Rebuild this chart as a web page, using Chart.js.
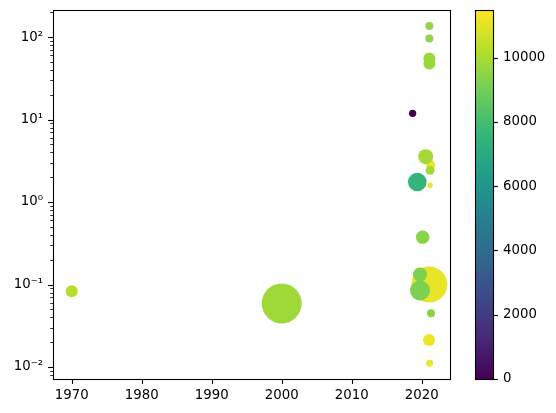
<!DOCTYPE html>
<html>
<head>
<meta charset="utf-8">
<script src="https://cdn.jsdelivr.net/npm/chart.js@4"></script>
<style>
  html, body { margin: 0; padding: 0; background: #fff; }
  #wrap { position: relative; width: 556px; height: 413px; }
  #wrap canvas { position: absolute; left: 0; top: 0; }
</style>
</head>
<body>
<div id="wrap">
  <canvas id="grafico" width="556" height="413"></canvas>
  <canvas id="barra" width="556" height="413"></canvas>
</div>
<script>
// --- datos ---
const years = [1970, 2000, 2021.09, 2021.09, 2021.1, 2021.1, 2018.7, 2021.29, 2020.57, 2021.19,
               2019.37, 2021.19, 2020.14, 2021.09, 2019.76, 2019.76, 2021.33, 2021.04, 2021.14];
const values = [0.083, 0.059, 136, 96, 55, 47.9, 11.9, 2.82, 3.55, 2.43,
                1.75, 1.6, 0.375, 0.1, 0.132, 0.0845, 0.0448, 0.0213, 0.0111];
// marker area (pt^2, como "s" de scatter)
const sizes = [75, 829, 33, 33, 75, 75, 28, 42, 117, 42,
               179, 15, 93, 672, 102, 207, 33, 75, 25];
const colorValues = [10200, 9800, 9500, 9500, 9700, 9700, 0, 11200, 9900, 9900,
                     7500, 11200, 9400, 11100, 9200, 9200, 9400, 11200, 11200];

const xTicks = [1970, 1980, 1990, 2000, 2010, 2020];
const yTickValues = [0.01, 0.1, 1, 10, 100];
const yTickLabels = ["10⁻²", "10⁻¹", "10⁰", "10¹", "10²"];
const colorTicks = [0, 2000, 4000, 6000, 8000, 10000];
const colorMin = 0;
const colorMax = 11480;

// --- viridis ---
const viridisStops = ["#440154", "#482878", "#3e4989", "#31688e", "#26828e",
                      "#1f9e89", "#35b779", "#6ece58", "#b5de2b", "#fde725"];

function hexRgb(h) {
  return [1, 3, 5].map(i => parseInt(h.slice(i, i + 2), 16));
}

function viridis(t) {
  t = Math.min(1, Math.max(0, t));
  const pos = t * (viridisStops.length - 1);
  const i = Math.min(Math.floor(pos), viridisStops.length - 2);
  const f = pos - i;
  const a = hexRgb(viridisStops[i]), b = hexRgb(viridisStops[i + 1]);
  const c = a.map((v, k) => Math.round(v + (b[k] - v) * f));
  return `rgb(${c[0]},${c[1]},${c[2]})`;
}

// area en pt^2 -> radio en px (dpi 100)
function sizeToRadius(s) {
  return Math.sqrt(s) / 2 * 100 / 72;
}

// sin padding extra de las etiquetas
function sinPadding(s) {
  s.paddingTop = 0;
  s.paddingBottom = 0;
  s.paddingLeft = 0;
  s.paddingRight = 0;
}

Chart.defaults.font.family = "'DejaVu Sans', sans-serif";
Chart.defaults.font.size = 13.3;
Chart.defaults.color = "#000";

const puntos = years.map((x, i) => ({ x, y: values[i], r: sizeToRadius(sizes[i]) }));
const colores = colorValues.map(c => viridis((c - colorMin) / (colorMax - colorMin)));

// --- marco y ticks estilo matplotlib ---
const marco = {
  id: "marco",
  afterDraw(chart) {
    const { ctx, chartArea: a, scales } = chart;
    ctx.save();
    ctx.strokeStyle = "#000";
    // ticks x
    ctx.lineWidth = 1.1;
    scales.x.ticks.forEach(t => {
      const px = Math.round(scales.x.getPixelForValue(t.value)) + 0.5;
      ctx.beginPath();
      ctx.moveTo(px, a.bottom);
      ctx.lineTo(px, a.bottom + 4.9);
      ctx.stroke();
    });
    // ticks y (mayores y menores)
    scales.y.ticks.forEach(t => {
      const major = yTickValues.some(v => Math.abs(v - t.value) / v < 1e-6);
      const py = Math.round(scales.y.getPixelForValue(t.value)) + 0.5;
      ctx.lineWidth = major ? 1.1 : 0.8;
      ctx.beginPath();
      ctx.moveTo(a.left, py);
      ctx.lineTo(a.left - (major ? 4.9 : 2.8), py);
      ctx.stroke();
    });
    ctx.lineWidth = 1.1;
    ctx.strokeRect(a.left + 0.5, a.top + 0.5, a.right - a.left, a.bottom - a.top);
    ctx.restore();
  }
};

new Chart(document.getElementById("grafico"), {
  type: "bubble",
  data: {
    datasets: [{
      data: puntos,
      backgroundColor: colores,
      borderWidth: 0,
      hoverRadius: 0
    }]
  },
  options: {
    responsive: false,
    animation: false,
    events: [],
    layout: { autoPadding: false, padding: { left: 0, top: 10, right: 106, bottom: 0 } },
    plugins: { legend: { display: false }, tooltip: { enabled: false } },
    scales: {
      x: {
        type: "linear",
        min: 1967.33,
        max: 2024.04,
        grid: { display: false, drawTicks: false },
        border: { display: false },
        afterBuildTicks: s => { s.ticks = xTicks.map(v => ({ value: v })); },
        afterFit: s => { s.height = 34; sinPadding(s); },
        ticks: { autoSkip: false, maxRotation: 0, padding: 9, callback: v => String(v) }
      },
      y: {
        type: "logarithmic",
        min: 0.00715,
        max: 213,
        grid: { display: false, drawTicks: false },
        border: { display: false },
        afterBuildTicks: s => {
          const ticks = [];
          for (let e = -3; e <= 2; e++) {
            for (let m = 1; m <= 9; m++) {
              const v = m * Math.pow(10, e);
              if (v >= s.min && v <= s.max) ticks.push({ value: v });
            }
          }
          s.ticks = ticks;
        },
        afterFit: s => { s.width = 53; sinPadding(s); },
        ticks: {
          autoSkip: false,
          padding: 10,
          callback: v => {
            const idx = yTickValues.findIndex(t => Math.abs(t - v) / t < 1e-6);
            return idx >= 0 ? yTickLabels[idx] : "";
          }
        }
      }
    }
  },
  plugins: [marco]
});

// --- barra de color ---
const barraPlugin = {
  id: "barraColor",
  afterDraw(chart) {
    const { ctx, chartArea: a, scales } = chart;
    ctx.save();
    const grad = ctx.createLinearGradient(0, a.bottom, 0, a.top);
    viridisStops.forEach((c, i) => grad.addColorStop(i / (viridisStops.length - 1), c));
    ctx.fillStyle = grad;
    ctx.fillRect(a.left, a.top, a.right - a.left, a.bottom - a.top);
    ctx.strokeStyle = "#000";
    ctx.lineWidth = 1.1;
    scales.y.ticks.forEach(t => {
      const py = Math.round(scales.y.getPixelForValue(t.value)) + 0.5;
      ctx.beginPath();
      ctx.moveTo(a.right, py);
      ctx.lineTo(a.right + 4.9, py);
      ctx.stroke();
    });
    ctx.strokeRect(a.left + 0.5, a.top + 0.5, a.right - a.left, a.bottom - a.top);
    ctx.restore();
  }
};

new Chart(document.getElementById("barra"), {
  type: "scatter",
  data: { datasets: [] },
  options: {
    responsive: false,
    animation: false,
    events: [],
    layout: { padding: { left: 475, top: 10, right: 0, bottom: 34 } },
    plugins: { legend: { display: false }, tooltip: { enabled: false } },
    scales: {
      x: { display: false },
      y: {
        position: "right",
        min: colorMin,
        max: colorMax,
        grid: { display: false, drawTicks: false },
        border: { display: false },
        afterBuildTicks: s => { s.ticks = colorTicks.map(v => ({ value: v })); },
        afterFit: s => { s.width = 63; sinPadding(s); },
        ticks: { autoSkip: false, padding: 10, callback: v => String(v) }
      }
    }
  },
  plugins: [barraPlugin]
});
</script>
</body>
</html>
